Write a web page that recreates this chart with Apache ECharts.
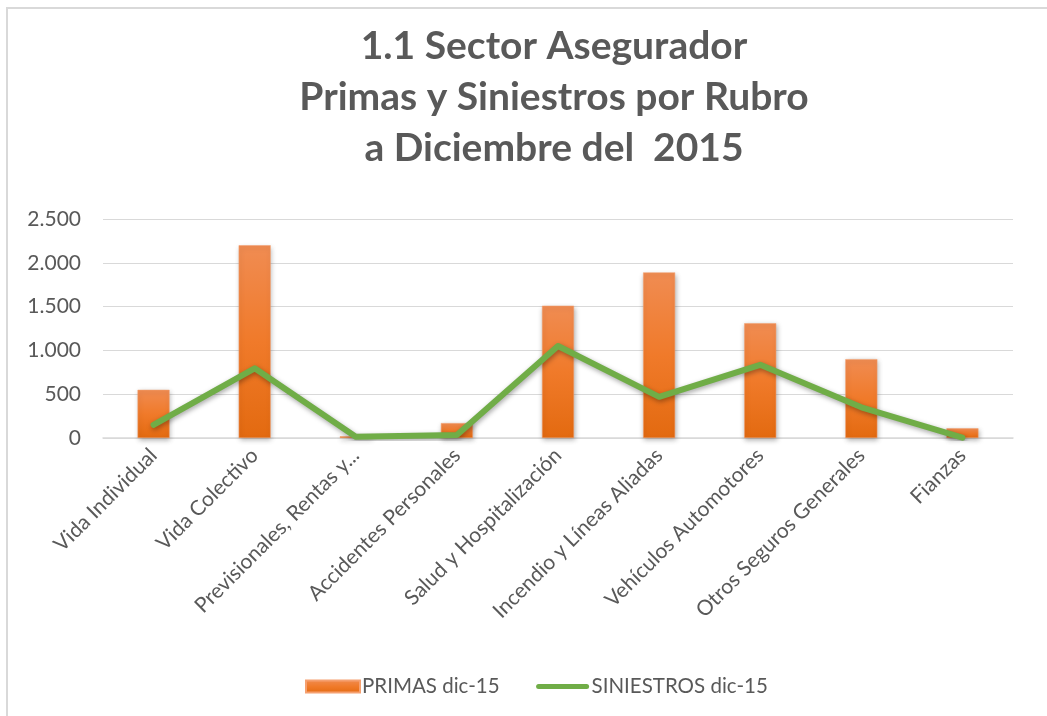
<!DOCTYPE html>
<html>
<head>
<meta charset="utf-8">
<script src="https://cdn.jsdelivr.net/npm/echarts@6/dist/echarts.min.js"></script>
<style>
html,body{margin:0;padding:0;background:#fff;}
#c{width:1047px;height:716px;}
</style>
</head>
<body>
<div id="c"></div>
<script>
var categories = ["Vida Individual","Vida Colectivo","Previsionales, Rentas y...","Accidentes Personales","Salud y Hospitalización","Incendio y Líneas Aliadas","Vehículos Automotores","Otros Seguros Generales","Fianzas"];
var primas = [550, 2200, 20, 170, 1510, 1890, 1310, 900, 110];
var siniestros = [150, 795, 15, 35, 1050, 470, 835, 350, 5];
var yTicks = [0, 500, 1000, 1500, 2000, 2500];
var titleLines = ["1.1 Sector Asegurador", "Primas y Siniestros por Rubro", "a Diciembre del  2015"];

var chart = echarts.init(document.getElementById('c'), null, {renderer:'canvas'});
var FONT = 'Lato';
var lineIcon = 'path://M0,0M54,12M3,3.5h48a2.5,2.5 0 0 1 0,5h-48a2.5,2.5 0 0 1 0,-5z';
chart.setOption({
  backgroundColor: '#fff',
  animation: false,
  graphic: [{
    type: 'rect',
    shape: {x: 7, y: 8, width: 1100, height: 800},
    style: {fill: 'none', stroke: '#d9d9d9', lineWidth: 2},
    silent: true, z: -10
  }],
  title: {
    text: titleLines.join('\n'),
    left: 549, top: 16, textAlign: 'center',
    textStyle: {fontFamily: FONT, fontWeight: 'bold', fontSize: 39, color: '#595959', lineHeight: 51}
  },
  legend: {
    bottom: 14, left: 300,
    itemWidth: 54, itemHeight: 12, itemGap: 36,
    textStyle: {fontFamily: FONT, fontSize: 20.5, color: '#595959', padding: [0,0,0,-3]},
    data: [{name: 'PRIMAS dic-15', icon: 'rect'}, {name: 'SINIESTROS dic-15', icon: lineIcon}]
  },
  grid: {left: 103, right: 34, top: 219, bottom: 278, containLabel: false},
  xAxis: {
    type: 'category', data: categories,
    axisLine: {lineStyle: {color: '#d9d9d9', width: 1.5}},
    axisTick: {show: false},
    axisLabel: {rotate: 45, interval: 0, margin: 14, fontFamily: FONT, fontSize: 21, color: '#595959'}
  },
  yAxis: {
    type: 'value', min: 0, max: 2500, interval: 500,
    axisLine: {show: false}, axisTick: {show: false},
    splitLine: {lineStyle: {color: '#d9d9d9', width: 1}},
    axisLabel: {
      margin: 22, fontFamily: FONT, fontSize: 21, color: '#595959',
      formatter: function (v) { return yTicks.indexOf(v) >= 0 ? v.toLocaleString('de-DE') : ''; }
    }
  },
  series: [{
    name: 'PRIMAS dic-15', type: 'bar', data: primas, barWidth: 32,
    itemStyle: {
      color: new echarts.graphic.LinearGradient(0, 0, 0, 1, [{offset: 0, color: '#F08C52'}, {offset: 0.5, color: '#F07A2A'}, {offset: 1, color: '#E36A10'}]),
      borderColor: '#F5A070', borderWidth: 0.5,
      shadowBlur: 5, shadowColor: 'rgba(0,0,0,0.3)', shadowOffsetX: 1, shadowOffsetY: 2
    }
  }, {
    name: 'SINIESTROS dic-15', type: 'line', data: siniestros, symbol: 'none',
    lineStyle: {color: '#70AD47', width: 6, cap: 'round', join: 'round', shadowBlur: 5, shadowColor: 'rgba(0,0,0,0.35)', shadowOffsetX: 1, shadowOffsetY: 2},
    itemStyle: {color: '#70AD47'}
  }]
});
</script>
</body>
</html>
